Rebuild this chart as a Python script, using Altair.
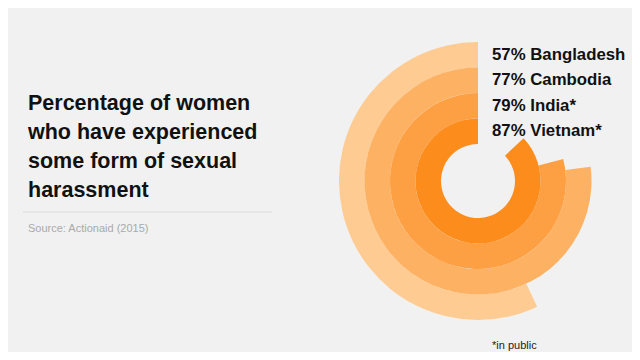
import altair as alt
import pandas as pd

countries = ["Bangladesh", "Cambodia", "India*", "Vietnam*"]
values = [57, 77, 79, 87]
colors = ["#FECB92", "#FDB263", "#FDA044", "#FC8D1C"]

title_lines = ["Percentage of women", "who have experienced", "some form of sexual", "harassment"]
source = "Source: Actionaid (2015)"
footnote = "*in public"

df = pd.DataFrame({"country": countries, "value": values, "order": list(range(len(countries)))})
df["label"] = [f"{v}% {c}" for v, c in zip(values, countries)]
df["start"] = 0

CX, CY = 470, 173

theta_scale = alt.Scale(domain=[0, 100], range=[6.283185, 0])
radius_scale = alt.Scale(type="linear", domain=[0, 4], range=[37, 139], zero=False)
color_scale = alt.Scale(domain=countries, range=colors)

base = alt.Chart(df).transform_calculate(
    r_out="4 - datum.order", r_in="3 - datum.order", r_mid="3.5 - datum.order"
)

arcs = base.mark_arc(stroke=None).encode(
    theta=alt.Theta("start:Q", scale=theta_scale),
    theta2=alt.Theta2("value:Q"),
    radius=alt.Radius("r_out:Q", scale=radius_scale),
    radius2=alt.Radius2("r_in:Q"),
    color=alt.Color("country:N", scale=color_scale, legend=None),
    x=alt.value(CX),
    y=alt.value(CY),
)

labels = base.mark_text(
    align="left", baseline="middle", dx=14, font="Liberation Sans", fontWeight="bold",
    fontSize=16.8, color="#111111"
).encode(
    theta=alt.value(0),
    radius=alt.Radius("r_mid:Q", scale=radius_scale),
    text="label:N",
    x=alt.value(CX),
    y=alt.value(CY),
)

tdf = pd.DataFrame({"line": title_lines, "i": list(range(len(title_lines)))})
title = alt.Chart(tdf).mark_text(
    align="left", baseline="alphabetic", font="Liberation Sans", fontWeight="bold",
    fontSize=21.5, color="#111111"
).encode(
    x=alt.value(20),
    y=alt.Y("i:Q", scale=alt.Scale(domain=[0, 3], range=[102, 189]), axis=None),
    text="line:N",
)

rule = alt.Chart(pd.DataFrame({"a": [0]})).mark_rule(color="#DCDCDC", strokeWidth=1).encode(
    x=alt.value(15), x2=alt.value(264), y=alt.value(204)
)

src = alt.Chart(pd.DataFrame({"t": [source]})).mark_text(
    align="left", baseline="alphabetic", font="Liberation Sans", fontSize=11, color="#AAAAAA"
).encode(x=alt.value(20), y=alt.value(224), text="t:N")

foot = alt.Chart(pd.DataFrame({"t": [footnote]})).mark_text(
    align="left", baseline="alphabetic", font="Liberation Sans", fontSize=11, color="#222222"
).encode(x=alt.value(484), y=alt.value(341), text="t:N")

chart = alt.layer(arcs, labels, title, rule, src, foot).resolve_scale(
    y="independent"
).properties(
    width=624, height=344, padding=0, background="#F1F1F1"
).configure_view(stroke=None)

chart.save("out.html", embed_options={"renderer": "svg", "actions": False})
